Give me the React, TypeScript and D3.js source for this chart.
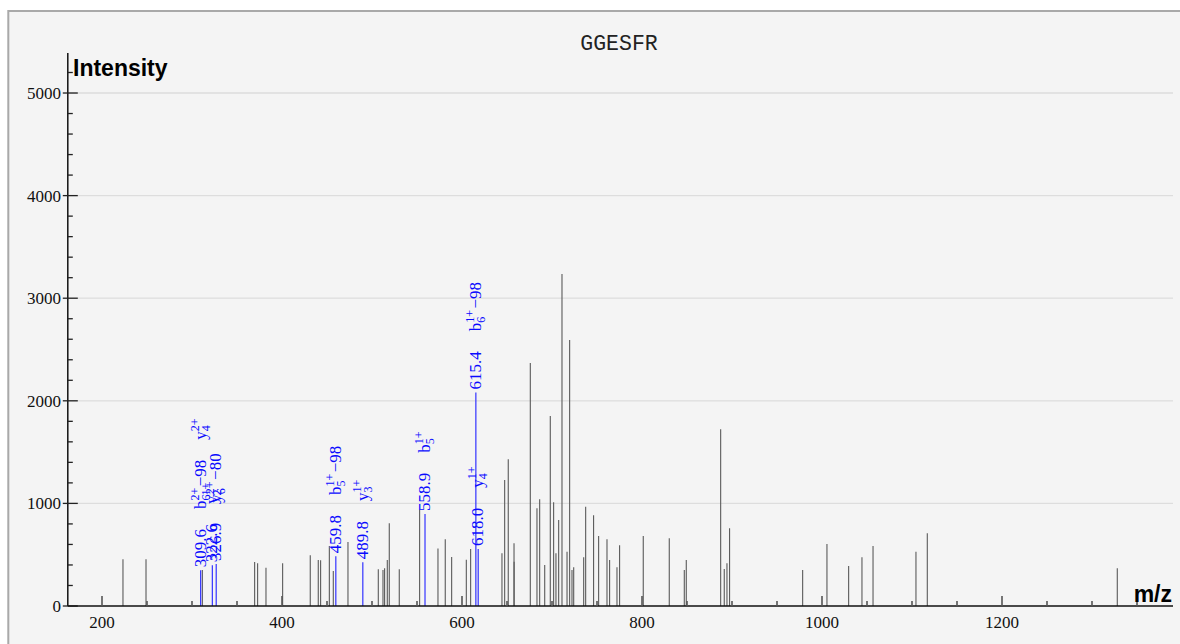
import React from "react";
import * as d3 from "d3";

const W = 1180;
const H = 644;

const title = "GGESFR";
const xLabel = "m/z";
const yLabel = "Intensity";

// unannotated peaks (m/z, intensity)
const peakMz = [
  223.3, 248.9, 311.5, 369.6, 372.9, 382.2, 400.7, 431.4, 440.3, 442.9, 452.6, 457.0,
  473.3, 507.0, 512.2, 514.0, 517.0, 519.2, 530.3, 552.9, 573.3, 581.4, 588.5, 604.8,
  609.6, 644.4, 647.4, 651.4, 657.8, 657.9, 675.9, 683.3, 686.3, 691.9, 698.1, 701.8,
  704.4, 707.4, 711.1, 716.7, 719.6, 722.2, 724.1, 735.2, 737.4, 746.2, 751.8, 761.1,
  764.0, 772.2, 775.1, 801.4, 830.3, 847.0, 849.2, 887.4, 891.4, 894.4, 897.3, 978.5,
  1005.5, 1029.6, 1044.4, 1056.7, 1104.4, 1117.0, 1328.1,
];
const peakIntensity = [
  455, 455, 351, 429, 416, 374, 416, 494, 448, 445, 585, 341,
  624, 357, 351, 367, 448, 806, 357, 942, 560, 650, 478, 452,
  556, 513, 1228, 1430, 611, 432, 2368, 952, 1040, 400, 1852, 1011,
  513, 838, 3236, 529, 2593, 351, 377, 474, 968, 884, 682, 650,
  448, 377, 591, 682, 660, 351, 448, 1722, 361, 416, 757, 351,
  604, 390, 474, 585, 529, 708, 367,
];

// annotated peaks
const annMz = [309.6, 322.6, 326.9, 459.8, 489.8, 558.9, 615.4, 618.0];
const annIntensity = [348, 397, 410, 484, 426, 897, 2080, 556];
const annText = ["309.6", "322.6", "326.9", "459.8", "489.8", "558.9", "615.4", "618.0"];
const annIons = [
  [
    { ion: "b", sub: "6", sup: "2+", loss: "−98" },
    { ion: "y", sub: "4", sup: "2+", loss: "" },
  ],
  [{ ion: "y", sub: "2", sup: "1+", loss: "" }],
  [{ ion: "y", sub: "6", sup: "2+", loss: "−80" }],
  [{ ion: "b", sub: "5", sup: "1+", loss: "−98" }],
  [{ ion: "y", sub: "3", sup: "1+", loss: "" }],
  [{ ion: "b", sub: "5", sup: "1+", loss: "" }],
  [{ ion: "b", sub: "6", sup: "1+", loss: "−98" }],
  [{ ion: "y", sub: "4", sup: "1+", loss: "" }],
];

const yTicks = [0, 1000, 2000, 3000, 4000, 5000];
const xTicks = [200, 400, 600, 800, 1000, 1200];

const SERIF = "'Liberation Serif', 'Times New Roman', serif";
const SANS = "'Liberation Sans', Arial, sans-serif";
const MONO = "'Liberation Mono', 'Courier New', monospace";

const FS = 17; // annotation font size
const SFS = 12; // script font size
const BLUE = "#0a0aff";

function textW(s: string, fs: number) {
  let w = 0;
  for (const c of s) {
    if (c === ".") w += 0.25;
    else if (c === "+" || c === "−") w += 0.564;
    else w += 0.5;
  }
  return w * fs;
}

export default function App() {
  const x = d3.scaleLinear().domain([162, 1390]).range([67.8, 1173]);
  const y = d3.scaleLinear().domain([0, 5390]).range([606, 53]);
  const x0 = x.range()[0];
  const x1 = x.range()[1];
  const yBase = y(0);

  const yMinor = d3.range(200, 5390, 200).filter((v) => v % 1000 !== 0);
  const xMinor = d3.range(200, 1390, 50).filter((v) => v % 200 !== 0);

  return (
    <svg
      width={W}
      height={H}
      style={{ position: "absolute", left: 0, top: 0, display: "block" }}
    >
      <rect x={0} y={0} width={W} height={H} fill="#ffffff" />
      <rect x={8.3} y={11} width={1300} height={800} fill="#f4f4f4" stroke="#a9a9a9" strokeWidth={2} />

      {/* title */}
      <text x={619} y={50} textAnchor="middle" fontFamily={MONO} fontSize={21.5} fill="#222">
        {title}
      </text>

      {/* gridlines */}
      {yTicks.filter((v) => v > 0).map((v) => (
        <line key={"g" + v} x1={x0} x2={x1} y1={y(v)} y2={y(v)} stroke="#dddddd" strokeWidth={1.3} />
      ))}

      {/* peaks */}
      {peakMz.map((m, i) => (
        <line
          key={"p" + i}
          x1={x(m)}
          x2={x(m)}
          y1={yBase}
          y2={y(peakIntensity[i])}
          stroke="#5a5a5a"
          strokeWidth={1.1}
        />
      ))}

      {/* annotated peaks */}
      {annMz.map((m, i) => (
        <line
          key={"a" + i}
          x1={x(m)}
          x2={x(m)}
          y1={yBase}
          y2={y(annIntensity[i])}
          stroke="#3333ff"
          strokeWidth={1.2}
        />
      ))}

      {/* annotation labels */}
      {annMz.map((m, i) => {
        const px = x(m) + 5;
        const py = y(annIntensity[i]) - 3;
        const items: any[] = [];
        let off = 0;
        items.push(
          <text key="n" x={off} y={0} fontFamily={SERIF} fontSize={FS} fill={BLUE}>
            {annText[i]}
          </text>
        );
        off += textW(annText[i], FS) + 20;
        annIons[i].forEach((ion, k) => {
          const bw = textW(ion.ion, FS);
          const sw = Math.max(textW(ion.sup, SFS), textW(ion.sub, SFS));
          items.push(
            <g key={"i" + k}>
              <text x={off} y={0} fontFamily={SERIF} fontSize={FS} fill={BLUE}>
                {ion.ion}
              </text>
              <text x={off + bw} y={-7} fontFamily={SERIF} fontSize={SFS} fill={BLUE}>
                {ion.sup}
              </text>
              <text x={off + bw} y={4} fontFamily={SERIF} fontSize={SFS} fill={BLUE}>
                {ion.sub}
              </text>
              {ion.loss ? (
                <text x={off + bw + sw + 1.5} y={0} fontFamily={SERIF} fontSize={FS} fill={BLUE}>
                  {ion.loss}
                </text>
              ) : null}
            </g>
          );
          off += bw + sw + (ion.loss ? 1.5 + textW(ion.loss, FS) : 0) + 20;
        });
        return (
          <g key={"l" + i} transform={`translate(${px},${py}) rotate(-90)`}>
            {items}
          </g>
        );
      })}

      {/* y axis */}
      <line x1={x0} x2={x0} y1={53} y2={yBase} stroke="#111" strokeWidth={1.5} />
      {yTicks.map((v) => (
        <g key={"yt" + v}>
          <line x1={x0 - 5} x2={x0 + 10} y1={y(v)} y2={y(v)} stroke="#222" strokeWidth={1.3} />
          <text x={61} y={y(v) + 6} textAnchor="end" fontFamily={SERIF} fontSize={17} fill="#111">
            {v}
          </text>
        </g>
      ))}
      {yMinor.map((v) => (
        <line key={"ym" + v} x1={x0} x2={x0 + 5} y1={y(v)} y2={y(v)} stroke="#222" strokeWidth={1.3} />
      ))}

      {/* x axis */}
      <line x1={x0} x2={x1} y1={yBase} y2={yBase} stroke="#111" strokeWidth={1.5} />
      {xTicks.map((v) => (
        <g key={"xt" + v}>
          <line x1={x(v)} x2={x(v)} y1={yBase} y2={yBase - 10} stroke="#555" strokeWidth={1.6} />
          <text x={x(v)} y={627.5} textAnchor="middle" fontFamily={SERIF} fontSize={17} fill="#111">
            {v}
          </text>
        </g>
      ))}
      {xMinor.map((v) => (
        <line key={"xm" + v} x1={x(v)} x2={x(v)} y1={yBase} y2={yBase - 5} stroke="#555" strokeWidth={1.6} />
      ))}

      {/* axis titles */}
      <text x={73} y={76} fontFamily={SANS} fontWeight="bold" fontSize={23} fill="#000">
        {yLabel}
      </text>
      <text x={1172} y={602} textAnchor="end" fontFamily={SANS} fontWeight="bold" fontSize={23} fill="#000">
        {xLabel}
      </text>
    </svg>
  );
}
